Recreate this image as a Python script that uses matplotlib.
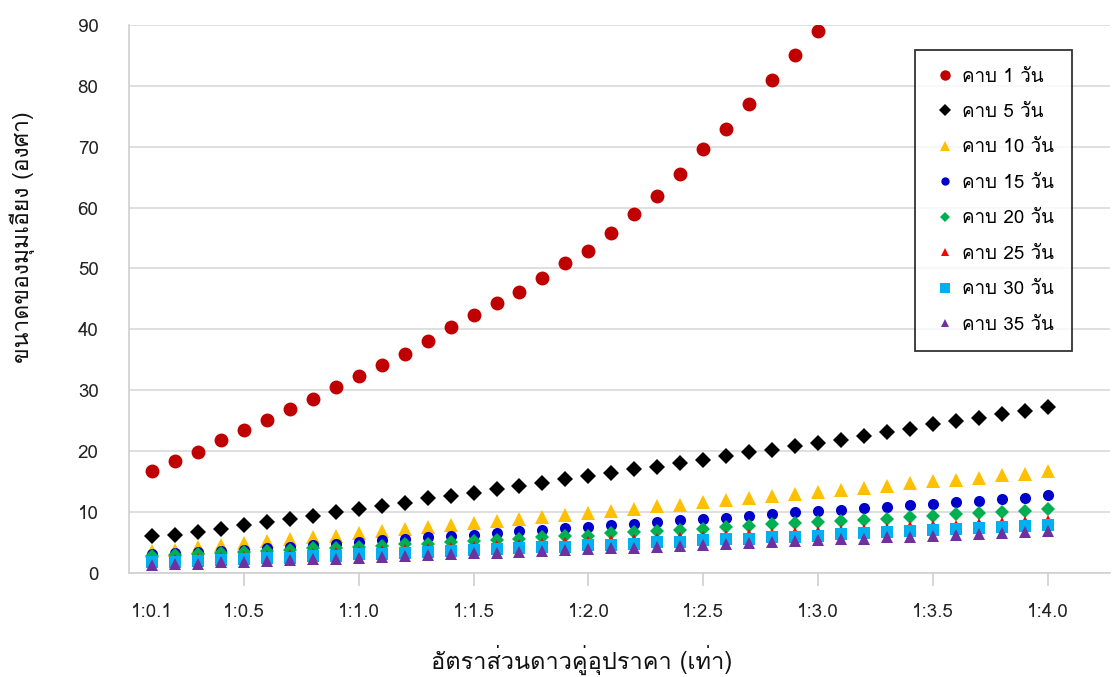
import matplotlib
matplotlib.use('Agg')
import matplotlib.pyplot as plt
from matplotlib import font_manager
from fontTools.ttLib import TTFont

# ratio of the binary (x) and tilt angle in degrees for each period
ratio = [round(0.1 * i, 1) for i in range(1, 41)]

p1 = [16.8, 18.4, 19.9, 21.8, 23.4, 25.1, 26.9, 28.5, 30.6, 32.3,
      34.1, 35.9, 38.1, 40.3, 42.4, 44.4, 46.1, 48.5, 50.9, 52.9,
      55.9, 58.9, 61.9, 65.5, 69.7, 73.0, 77.0, 81.0, 85.0, 89.0]
p5 = [6.0, 6.2, 6.7, 7.2, 7.8, 8.3, 8.9, 9.4, 9.9, 10.5,
      11.0, 11.5, 12.2, 12.6, 13.1, 13.7, 14.3, 14.8, 15.4, 15.9,
      16.4, 17.0, 17.4, 18.1, 18.5, 19.2, 19.8, 20.2, 20.8, 21.4,
      21.8, 22.5, 23.2, 23.7, 24.4, 24.9, 25.5, 26.1, 26.6, 27.2]
p10 = [3.6, 3.8, 4.2, 4.6, 4.9, 5.2, 5.5, 5.9, 6.1, 6.5,
       6.9, 7.2, 7.5, 7.8, 8.1, 8.5, 8.8, 9.2, 9.5, 9.8,
       10.1, 10.5, 10.9, 11.2, 11.6, 12.0, 12.2, 12.6, 12.9, 13.3,
       13.6, 13.9, 14.3, 14.7, 15.0, 15.3, 15.6, 16.0, 16.3, 16.7]
p15 = [3.0, 3.2, 3.4, 3.6, 3.8, 4.1, 4.3, 4.6, 4.8, 5.0,
       5.3, 5.5, 5.8, 6.0, 6.2, 6.5, 6.8, 7.1, 7.3, 7.5,
       7.8, 8.0, 8.3, 8.6, 8.8, 9.0, 9.4, 9.6, 9.9, 10.1,
       10.3, 10.6, 10.8, 11.1, 11.3, 11.6, 11.8, 12.1, 12.3, 12.7]
p20 = [2.7, 2.9, 3.1, 3.2, 3.4, 3.6, 3.8, 4.0, 4.1, 4.3,
       4.4, 4.7, 4.8, 5.1, 5.2, 5.4, 5.6, 5.8, 6.0, 6.1,
       6.5, 6.7, 6.9, 7.1, 7.2, 7.5, 7.7, 8.0, 8.1, 8.3,
       8.5, 8.7, 8.9, 9.2, 9.4, 9.6, 9.8, 10.0, 10.2, 10.5]
p25 = [2.1, 2.3, 2.4, 2.6, 2.7, 2.9, 3.1, 3.2, 3.4, 3.6,
       3.7, 3.9, 4.0, 4.2, 4.4, 4.5, 4.7, 4.9, 5.0, 5.2,
       5.4, 5.5, 5.7, 5.9, 6.0, 6.2, 6.4, 6.5, 6.7, 6.9,
       7.1, 7.2, 7.4, 7.6, 7.8, 7.9, 8.1, 8.3, 8.5, 8.7]
p30 = [1.7, 1.8, 1.9, 2.1, 2.2, 2.4, 2.5, 2.7, 2.8, 3.0,
       3.1, 3.3, 3.4, 3.6, 3.7, 3.9, 4.0, 4.2, 4.3, 4.5,
       4.6, 4.8, 5.0, 5.1, 5.3, 5.5, 5.6, 5.8, 5.9, 6.1,
       6.3, 6.5, 6.7, 6.8, 7.0, 7.2, 7.3, 7.5, 7.7, 7.9]
p35 = [1.3, 1.4, 1.5, 1.7, 1.8, 1.9, 2.1, 2.2, 2.3, 2.5,
       2.6, 2.7, 2.9, 3.0, 3.2, 3.3, 3.4, 3.6, 3.7, 3.9,
       4.0, 4.1, 4.3, 4.4, 4.6, 4.7, 4.9, 5.0, 5.2, 5.3,
       5.5, 5.6, 5.8, 5.9, 6.1, 6.2, 6.4, 6.5, 6.7, 6.9]

labels = ['คาบ 1 วัน', 'คาบ 5 วัน', 'คาบ 10 วัน', 'คาบ 15 วัน',
          'คาบ 20 วัน', 'คาบ 25 วัน', 'คาบ 30 วัน', 'คาบ 35 วัน']
xtick_vals = [0.1, 0.5, 1.0, 1.5, 2.0, 2.5, 3.0, 3.5, 4.0]
xtick_labels = ['1:0.1', '1:0.5', '1:1.0', '1:1.5', '1:2.0', '1:2.5', '1:3.0', '1:3.5', '1:4.0']


def find_thai_font():
    # pick first installed family that has Thai glyphs
    for f in font_manager.fontManager.ttflist:
        try:
            tt = TTFont(f.fname, fontNumber=0, lazy=True)
            cmap = tt.getBestCmap()
            if cmap and 0x0E04 in cmap and 0x0E31 in cmap:
                return f.name
        except Exception:
            continue
    return None


thai = find_thai_font()
fams = ([thai] if thai else []) + ['DejaVu Sans']
plt.rcParams['font.family'] = fams

fig = plt.figure(figsize=(11.13, 6.77), dpi=100)
ax = fig.add_axes([0.116, 0.154, 0.881, 0.809])

styles = [
    (p1, 'o', '#c00000', 10.0),
    (p5, 'D', '#000000', 7.8),
    (p10, '^', '#ffc000', 9.5),
    (p15, 'o', '#0000cc', 8.0),
    (p20, 'D', '#00b050', 7.0),
    (p25, '^', '#ff0000', 7.5),
    (p30, 's', '#00b0f0', 9.3),
    (p35, '^', '#7030a0', 8.5),
]
for (vals, mk, col, ms), lab in zip(styles, labels):
    ax.plot(ratio[:len(vals)], vals, linestyle='none', marker=mk, color=col,
            markersize=ms, markeredgewidth=0, label=lab)

ax.set_xlim(0, 4.27)
ax.set_ylim(0, 90)
ax.set_yticks(range(0, 91, 10))
ax.set_xticks(xtick_vals)
ax.set_xticklabels(xtick_labels)
ax.xaxis.get_major_ticks()[0].tick1line.set_visible(False)

ax.grid(axis='y', color='#d9d9d9', linewidth=1.2)
ax.set_axisbelow(True)
for s in ['top', 'right']:
    ax.spines[s].set_visible(False)
for s in ['left', 'bottom']:
    ax.spines[s].set_color('#d0d0d0')
    ax.spines[s].set_linewidth(1.2)

ax.tick_params(axis='y', length=0, pad=22, labelsize=13.5, colors='#222222')
ax.tick_params(axis='x', length=9, width=1.2, color='#d0d0d0', pad=13,
               labelsize=13.5, labelcolor='#222222')

fig.text(0.523, 0.025, 'อัตราส่วนดาวคู่อุปราคา (เท่า)', ha='center', va='center',
         fontsize=17, color='#111111')
fig.text(0.02, 0.65, 'ขนาดของมุมเอียง (องศา)', ha='center', va='center',
         rotation=90, fontsize=16.5, color='#111111')

leg = ax.legend(loc='upper left', bbox_to_anchor=(0.8015, 0.955), borderaxespad=0,
                frameon=True, fancybox=False, edgecolor='black', fontsize=13.5,
                labelspacing=0.93, handletextpad=0.3, borderpad=0.95,
                markerscale=0.75, handlelength=1.25)
leg.get_frame().set_linewidth(1.3)

fig.savefig('out.png', dpi=100)
